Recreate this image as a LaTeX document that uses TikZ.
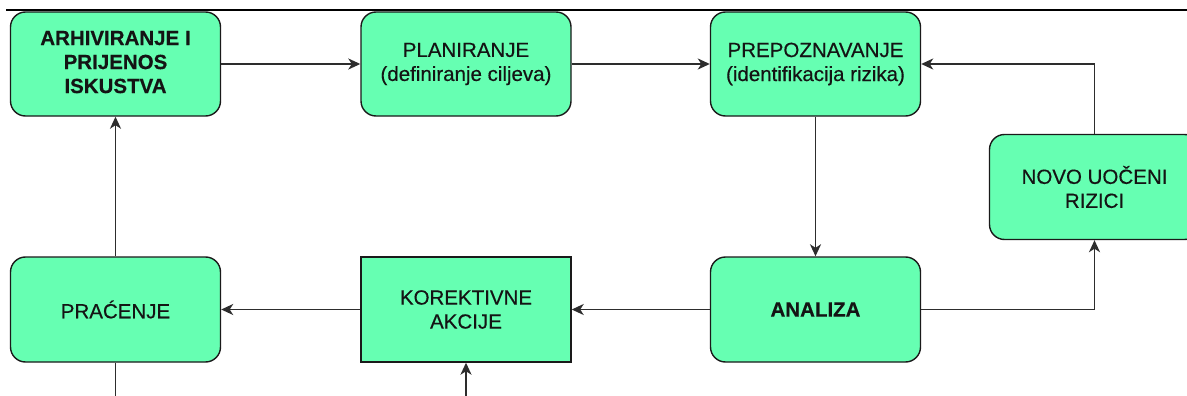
\documentclass[tikz,border=0pt]{standalone}
\usepackage{fontspec}
\setmainfont{Liberation Sans}[FakeBold=0.4]
\usetikzlibrary{arrows.meta}
\definecolor{boxfill}{RGB}{102,255,178}
\definecolor{boxline}{RGB}{26,26,26}
\definecolor{conline}{RGB}{45,45,45}
\definecolor{txt}{RGB}{20,20,20}
\begin{document}
\begin{tikzpicture}[x=1pt,y=-1pt,
  stepbox/.style={draw=boxline, fill=boxfill, line width=1.4pt, rounded corners=15pt,
    minimum width=210pt, minimum height=104pt, align=center, inner sep=0pt,
    text=txt, font=\fontsize{20.5}{24}\selectfont},
  sqbox/.style={stepbox, rounded corners=0pt},
  conn/.style={draw=conline, line width=1.7pt, -{Stealth[length=12pt,width=11pt,inset=3.5pt]}},
  plain/.style={draw=conline, line width=1.7pt}
]
\useasboundingbox (0,0) rectangle (1187,396);
\clip (0,0) rectangle (1187,396);
\fill[white] (0,0) rectangle (1187,396);
\draw[black, line width=1.6pt] (6,10) -- (1187,10);

\node[stepbox] (arh) at (115.5,64) {\textbf{ARHIVIRANJE I}\\\textbf{PRIJENOS}\\\textbf{ISKUSTVA}\rule[-4pt]{0pt}{0pt}};
\node[stepbox] (plan) at (466,64) {PLANIRANJE\\(definiranje ciljeva)};
\node[stepbox] (prep) at (815.5,64) {PREPOZNAVANJE\\(identifikacija rizika)};
\node[stepbox, minimum height=105pt] (novo) at (1094.5,187) {NOVO UOČENI\\RIZICI};
\node[stepbox, minimum height=105pt] (prac) at (115.5,309.5) {PRAĆENJE};
\node[sqbox, minimum height=105pt] (kor) at (466,309.5) {KOREKTIVNE\\AKCIJE};
\node[stepbox, minimum height=105pt] (ana) at (815.5,309.5) {\textbf{ANALIZA}};

\coordinate (pracend) at (115.5,396);
\coordinate (korstart) at (466,396);

\draw[conn] (arh.east) -- (plan.west);
\draw[conn] (plan.east) -- (prep.west);
\draw[conn] (prep.south) -- (ana.north);
\draw[conn] (ana.east) -| (novo.south);
\draw[conn] (novo.north) |- (prep.east);
\draw[conn] (ana.west) -- (kor.east);
\draw[conn] (kor.west) -- (prac.east);
\draw[conn] (prac.north) -- (arh.south);
\draw[plain] (prac.south) -- (pracend);
\draw[conn] (korstart) -- (kor.south);
\end{tikzpicture}
\end{document}
